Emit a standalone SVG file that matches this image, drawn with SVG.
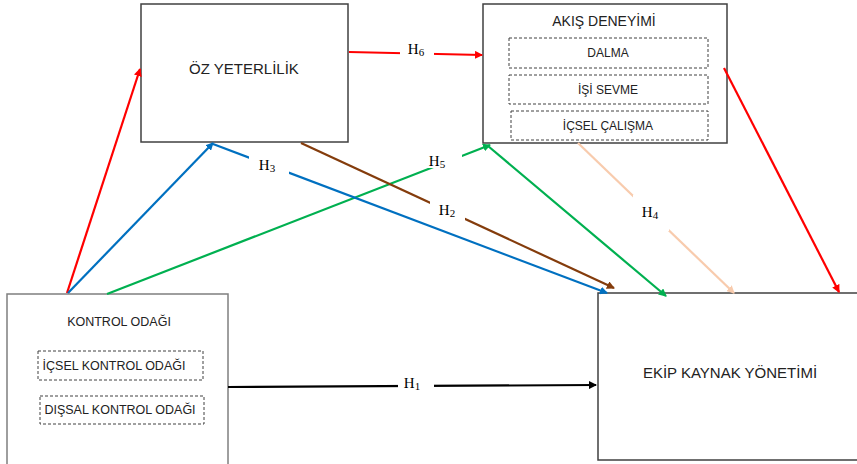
<svg xmlns="http://www.w3.org/2000/svg" width="857" height="464" viewBox="0 0 857 464">
<style>
.box{fill:#fff;stroke:#404040;stroke-width:1.5}
.dash{fill:none;stroke:#404040;stroke-width:1;stroke-dasharray:3,2}
.t{font-family:"Liberation Sans",Arial,sans-serif;fill:#222;text-anchor:middle}
.h{font-family:"Liberation Serif","Times New Roman",serif;font-size:15px;fill:#000;text-anchor:middle}
.c{fill:none;stroke-width:2.2}
</style>
<defs>
<marker id="mred" markerWidth="8" markerHeight="8" refX="7" refY="4" orient="auto" markerUnits="userSpaceOnUse"><path d="M0,0 L8,4 L0,8 z" fill="#ff0000"/></marker>
<marker id="mblue" markerWidth="8" markerHeight="8" refX="7" refY="4" orient="auto" markerUnits="userSpaceOnUse"><path d="M0,0 L8,4 L0,8 z" fill="#0070c0"/></marker>
<marker id="mgreen" markerWidth="8" markerHeight="8" refX="7" refY="4" orient="auto" markerUnits="userSpaceOnUse"><path d="M0,0 L8,4 L0,8 z" fill="#00b050"/></marker>
<marker id="mbrown" markerWidth="8" markerHeight="8" refX="7" refY="4" orient="auto" markerUnits="userSpaceOnUse"><path d="M0,0 L8,4 L0,8 z" fill="#843c0c"/></marker>
<marker id="mpeach" markerWidth="8" markerHeight="8" refX="7" refY="4" orient="auto" markerUnits="userSpaceOnUse"><path d="M0,0 L8,4 L0,8 z" fill="#f8cbad"/></marker>
<marker id="mblack" markerWidth="8" markerHeight="8" refX="7" refY="4" orient="auto" markerUnits="userSpaceOnUse"><path d="M0,0 L8,4 L0,8 z" fill="#000"/></marker>
</defs>

<g id="oz-yeterlilik">
<rect class="box" x="141" y="4" width="207" height="138"/>
<text class="t" x="244" y="74" font-size="15">ÖZ YETERLİLİK</text>
</g>

<g id="akis-deneyimi">
<rect class="box" x="483" y="4" width="244" height="139"/>
<text class="t" x="604" y="26" font-size="14">AKIŞ DENEYİMİ</text>
<rect class="dash" x="509" y="38" width="199" height="30"/>
<text class="t" x="608" y="57" font-size="12">DALMA</text>
<rect class="dash" x="509" y="75" width="199" height="29"/>
<text class="t" x="608" y="94" font-size="12">İŞİ SEVME</text>
<rect class="dash" x="511" y="111" width="197" height="29"/>
<text class="t" x="608" y="130" font-size="12">İÇSEL ÇALIŞMA</text>
</g>

<g id="kontrol-odagi">
<rect class="box" x="7" y="294" width="221" height="175" style="stroke:#7f7f7f"/>
<text class="t" x="119" y="326" font-size="12.5">KONTROL ODAĞI</text>
<rect class="dash" x="38" y="351" width="165" height="29"/>
<text class="t" x="114" y="370" font-size="12.5">İÇSEL KONTROL ODAĞI</text>
<rect class="dash" x="40" y="396" width="164" height="28"/>
<text class="t" x="120" y="414" font-size="12.5">DIŞSAL KONTROL ODAĞI</text>
</g>

<g id="ekip-kaynak-yonetimi">
<rect class="box" x="598" y="293" width="265" height="167"/>
<text class="t" x="730" y="378" font-size="15">EKİP KAYNAK YÖNETİMİ</text>
</g>

<g id="connectors">
<line class="c" stroke="#ff0000" x1="67" y1="293" x2="140" y2="69" marker-end="url(#mred)"/>
<line class="c" stroke="#0070c0" x1="68" y1="293" x2="213" y2="143" marker-end="url(#mblue)"/>
<line class="c" stroke="#00b050" x1="107" y1="294" x2="490" y2="145" marker-end="url(#mgreen)"/>
<line class="c" stroke="#0070c0" x1="213" y1="144" x2="607" y2="293" marker-end="url(#mblue)"/>
<line class="c" stroke="#843c0c" x1="301" y1="143" x2="614" y2="288" marker-end="url(#mbrown)"/>
<line class="c" stroke="#ff0000" x1="349" y1="52" x2="482" y2="55" marker-end="url(#mred)"/>
<line class="c" stroke="#00b050" x1="488" y1="146" x2="666" y2="296" marker-end="url(#mgreen)"/>
<line class="c" stroke="#f8cbad" x1="578" y1="143" x2="734" y2="293" marker-end="url(#mpeach)"/>
<line class="c" stroke="#ff0000" x1="724" y1="68" x2="839" y2="292" marker-end="url(#mred)"/>
<line class="c" stroke="#000" x1="228" y1="387" x2="596" y2="385" marker-end="url(#mblack)"/>
<g>
<rect x="398" y="372" width="36" height="20" fill="#fff"/>
<text class="h" x="412" y="388">H<tspan font-size="11" dy="2">1</tspan></text>
<rect x="430" y="195" width="35" height="28" fill="#fff"/>
<text class="h" x="447" y="215">H<tspan font-size="11" dy="2">2</tspan></text>
<rect x="249" y="152" width="40" height="24" fill="#fff"/>
<text class="h" x="267" y="170">H<tspan font-size="11" dy="2">3</tspan></text>
<rect x="633" y="195" width="36" height="36" fill="#fff"/>
<text class="h" x="650" y="217">H<tspan font-size="11" dy="2">4</tspan></text>
<rect x="420" y="150" width="42" height="18" fill="#fff"/>
<text class="h" x="437" y="166">H<tspan font-size="11" dy="2">5</tspan></text>
<rect x="400" y="40" width="34" height="20" fill="#fff"/>
<text class="h" x="416" y="54">H<tspan font-size="11" dy="2">6</tspan></text>
</g>
</g>
</svg>
